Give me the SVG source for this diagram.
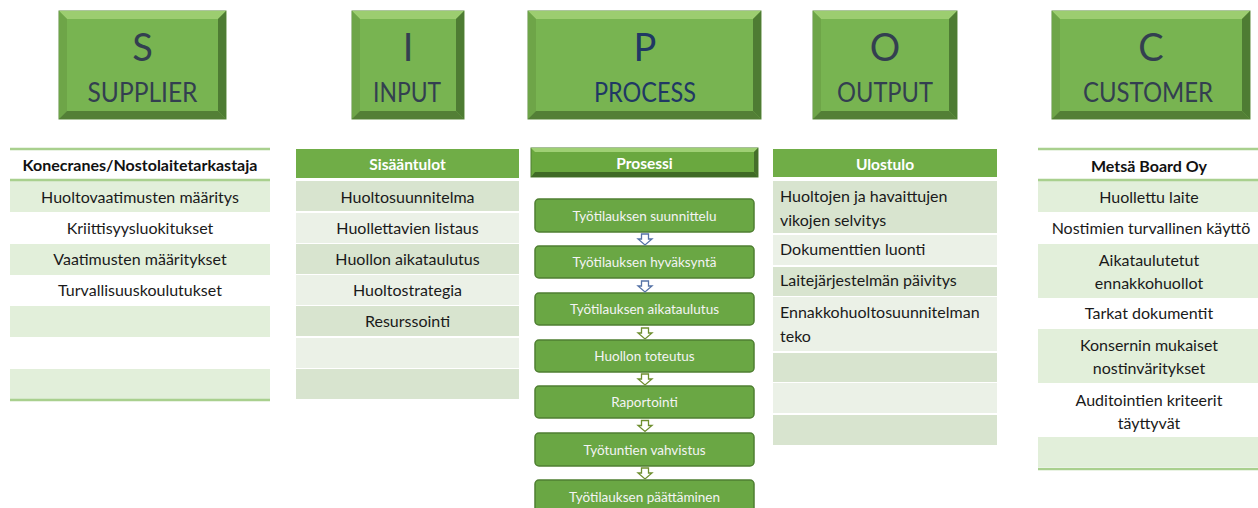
<svg xmlns="http://www.w3.org/2000/svg" width="1258" height="508" viewBox="0 0 1258 508">
<style>
text{font-family:Lato,"Open Sans","Liberation Sans",sans-serif}
.hbase{fill:#78b451;stroke:#5d8c3e;stroke-width:1}
.bt{fill:#9ccd70}
.bl{fill:#6ea548}
.br{fill:#4e7c33}
.bb{fill:#537f36}
.big{font-size:38px;fill:#333f50;text-anchor:middle}
.lab{font-size:27px;fill:#333f50;text-anchor:middle}
.navy{fill:#203864}
.t{font-size:16px;fill:#1a1a1a;text-anchor:middle}
.tl{font-size:16px;fill:#1a1a1a}
.th{font-size:16px;font-weight:bold;fill:#111;text-anchor:middle}
.thw{font-size:15.5px;font-weight:bold;fill:#fff;text-anchor:middle}
.gl{stroke:#a9d08e;stroke-width:2.5}
.rg{fill:#e2efda}
.rd{fill:#d8e4cf}
.rlt{fill:#ebf1e7}
.hd{fill:#70ad47}
.pb{fill:#6aa744;stroke:#4f7f32;stroke-width:1.5}
.pt{font-size:13.5px;fill:#f4f4f4;text-anchor:middle}
.arb{fill:#fff;stroke:#5673a6;stroke-width:1.3}
.arg{fill:#fff;stroke:#6f8f30;stroke-width:1.3}
</style>
<defs>
<path id="arr" d="M-3.5,0 h7 v5 h3.5 l-7,6 l-7,-6 h3.5 z"/>
</defs>
<rect width="1258" height="508" fill="#fff"/>

<g id="hdr-S">
<rect class="hbase" x="59" y="11" width="167" height="108"/>
<polygon class="bt" points="59,11 226,11 218,19 67,19"/>
<polygon class="bl" points="59,11 67,19 67,111 59,119"/>
<polygon class="br" points="226,11 226,119 218,111 218,19"/>
<polygon class="bb" points="59,119 226,119 218,111 67,111"/>
<text class="big" x="142.5" y="61">S</text>
<text class="lab" x="142.5" y="102" textLength="110" lengthAdjust="spacingAndGlyphs">SUPPLIER</text>
</g>

<g id="hdr-I">
<rect class="hbase" x="352" y="11" width="112" height="108"/>
<polygon class="bt" points="352,11 464,11 456,19 360,19"/>
<polygon class="bl" points="352,11 360,19 360,111 352,119"/>
<polygon class="br" points="464,11 464,119 456,111 456,19"/>
<polygon class="bb" points="352,119 464,119 456,111 360,111"/>
<text class="big" x="408" y="61">I</text>
<text class="lab" x="407" y="102" textLength="68" lengthAdjust="spacingAndGlyphs">INPUT</text>
</g>

<g id="hdr-P">
<rect class="hbase" x="528" y="11" width="233" height="108"/>
<polygon class="bt" points="528,11 761,11 753,19 536,19"/>
<polygon class="bl" points="528,11 536,19 536,111 528,119"/>
<polygon class="br" points="761,11 761,119 753,111 753,19"/>
<polygon class="bb" points="528,119 761,119 753,111 536,111"/>
<text class="big navy" x="645" y="61">P</text>
<text class="lab navy" x="645" y="102" textLength="102" lengthAdjust="spacingAndGlyphs">PROCESS</text>
</g>

<g id="hdr-O">
<rect class="hbase" x="813" y="11" width="144" height="108"/>
<polygon class="bt" points="813,11 957,11 949,19 821,19"/>
<polygon class="bl" points="813,11 821,19 821,111 813,119"/>
<polygon class="br" points="957,11 957,119 949,111 949,19"/>
<polygon class="bb" points="813,119 957,119 949,111 821,111"/>
<text class="big" x="885" y="61">O</text>
<text class="lab" x="885" y="102" textLength="96" lengthAdjust="spacingAndGlyphs">OUTPUT</text>
</g>

<g id="hdr-C">
<rect class="hbase" x="1052" y="11" width="198" height="108"/>
<polygon class="bt" points="1052,11 1250,11 1242,19 1060,19"/>
<polygon class="bl" points="1052,11 1060,19 1060,111 1052,119"/>
<polygon class="br" points="1250,11 1250,119 1242,111 1242,19"/>
<polygon class="bb" points="1052,119 1250,119 1242,111 1060,111"/>
<text class="big" x="1151" y="61">C</text>
<text class="lab" x="1148" y="102" textLength="130" lengthAdjust="spacingAndGlyphs">CUSTOMER</text>
</g>

<g id="tbl-supplier">
<rect class="rg" x="10" y="181" width="260" height="31"/>
<rect class="rg" x="10" y="244" width="260" height="31"/>
<rect class="rg" x="10" y="306" width="260" height="31"/>
<rect class="rg" x="10" y="369" width="260" height="30"/>
<line class="gl" x1="10" y1="149" x2="270" y2="149"/>
<line class="gl" x1="10" y1="180" x2="270" y2="180"/>
<line class="gl" x1="10" y1="400" x2="270" y2="400"/>
<text class="th" x="140" y="171">Konecranes/Nostolaitetarkastaja</text>
<text class="t" x="140" y="203">Huoltovaatimusten määritys</text>
<text class="t" x="140" y="234">Kriittisyysluokitukset</text>
<text class="t" x="140" y="265">Vaatimusten määritykset</text>
<text class="t" x="140" y="296">Turvallisuuskoulutukset</text>
</g>

<g id="tbl-input">
<rect class="hd" x="296" y="149" width="223" height="29"/>
<rect class="rd" x="296" y="181" width="223" height="30"/>
<rect class="rlt" x="296" y="213" width="223" height="30"/>
<rect class="rd" x="296" y="244" width="223" height="30"/>
<rect class="rlt" x="296" y="275" width="223" height="30"/>
<rect class="rd" x="296" y="306" width="223" height="30"/>
<rect class="rlt" x="296" y="338" width="223" height="30"/>
<rect class="rd" x="296" y="369" width="223" height="30"/>
<text class="thw" x="407.5" y="170">Sisääntulot</text>
<text class="t" x="407.5" y="203">Huoltosuunnitelma</text>
<text class="t" x="407.5" y="234">Huollettavien listaus</text>
<text class="t" x="407.5" y="265">Huollon aikataulutus</text>
<text class="t" x="407.5" y="296">Huoltostrategia</text>
<text class="t" x="407.5" y="327">Resurssointi</text>
</g>

<g id="proc-header">
<rect x="531" y="148" width="227" height="29" fill="#6aa83f" stroke="#4f7f32" stroke-width="1"/>
<polygon points="531,148 758,148 754,152 535,152" fill="#9fd074"/>
<polygon points="531,177 758,177 754,172 535,172" fill="#3f6a26"/>
<polygon points="758,148 758,177 754,172 754,152" fill="#456f2b"/>
<text class="thw" x="644.5" y="169">Prosessi</text>
</g>

<g id="p1"><rect class="pb" x="535" y="199" width="219" height="33" rx="4"/><text class="pt" x="644.5" y="220.5">Työtilauksen suunnittelu</text></g>
<g id="p2"><rect class="pb" x="535" y="246" width="219" height="32" rx="4"/><text class="pt" x="644.5" y="267">Työtilauksen hyväksyntä</text></g>
<g id="p3"><rect class="pb" x="535" y="293" width="219" height="32" rx="4"/><text class="pt" x="644.5" y="314">Työtilauksen aikataulutus</text></g>
<g id="p4"><rect class="pb" x="535" y="340" width="219" height="32" rx="4"/><text class="pt" x="644.5" y="361">Huollon toteutus</text></g>
<g id="p5"><rect class="pb" x="535" y="386" width="219" height="32" rx="4"/><text class="pt" x="644.5" y="407">Raportointi</text></g>
<g id="p6"><rect class="pb" x="535" y="433" width="219" height="33" rx="4"/><text class="pt" x="644.5" y="454.5">Työtuntien vahvistus</text></g>
<g id="p7"><rect class="pb" x="535" y="480" width="219" height="33" rx="4"/><text class="pt" x="644.5" y="501.5">Työtilauksen päättäminen</text></g>

<g id="connectors">
<use href="#arr" class="arb" x="645" y="234"/>
<use href="#arr" class="arb" x="645" y="281"/>
<use href="#arr" class="arg" x="645" y="328"/>
<use href="#arr" class="arg" x="645" y="374"/>
<use href="#arr" class="arg" x="645" y="420.5"/>
<use href="#arr" class="arg" x="645" y="468"/>
</g>

<g id="tbl-output">
<rect class="hd" x="773" y="149" width="224" height="28"/>
<rect class="rd" x="773" y="181" width="224" height="52"/>
<rect class="rlt" x="773" y="235" width="224" height="30"/>
<rect class="rd" x="773" y="267" width="224" height="29"/>
<rect class="rlt" x="773" y="297" width="224" height="54"/>
<rect class="rd" x="773" y="353" width="224" height="29"/>
<rect class="rlt" x="773" y="383" width="224" height="30"/>
<rect class="rd" x="773" y="415" width="224" height="30"/>
<text class="thw" x="885" y="170">Ulostulo</text>
<text class="tl" x="780" y="202">Huoltojen ja havaittujen</text>
<text class="tl" x="780" y="226">vikojen selvitys</text>
<text class="tl" x="780" y="255">Dokumenttien luonti</text>
<text class="tl" x="780" y="286">Laitejärjestelmän päivitys</text>
<text class="tl" x="780" y="318">Ennakkohuoltosuunnitelman</text>
<text class="tl" x="780" y="342">teko</text>
</g>

<g id="tbl-customer">
<rect class="rg" x="1038" y="181" width="220" height="31"/>
<rect class="rg" x="1038" y="244" width="220" height="54"/>
<rect class="rg" x="1038" y="329" width="220" height="54"/>
<rect class="rg" x="1038" y="437" width="220" height="30"/>
<line class="gl" x1="1038" y1="149" x2="1258" y2="149"/>
<line class="gl" x1="1038" y1="180" x2="1258" y2="180"/>
<line class="gl" x1="1038" y1="469" x2="1258" y2="469"/>
<text class="th" x="1149" y="172">Metsä Board Oy</text>
<text class="t" x="1149" y="203">Huollettu laite</text>
<text class="t" x="1151" y="234">Nostimien turvallinen käyttö</text>
<text class="t" x="1149" y="266">Aikataulutetut</text>
<text class="t" x="1149" y="289">ennakkohuollot</text>
<text class="t" x="1149" y="319">Tarkat dokumentit</text>
<text class="t" x="1149" y="351">Konsernin mukaiset</text>
<text class="t" x="1149" y="374">nostinväritykset</text>
<text class="t" x="1149" y="406">Auditointien kriteerit</text>
<text class="t" x="1149" y="429">täyttyvät</text>
</g>
</svg>
